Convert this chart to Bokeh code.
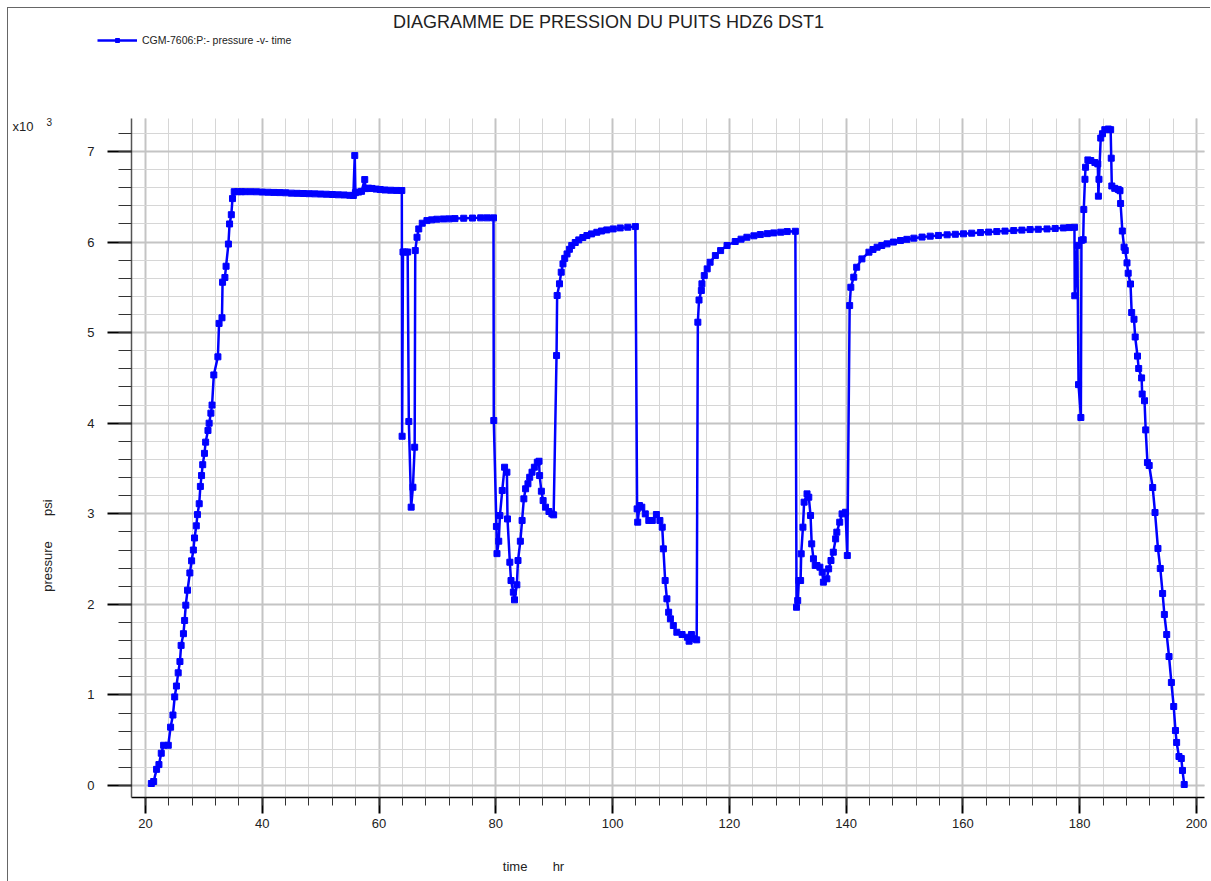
from bokeh.plotting import figure
from bokeh.models import (SingleIntervalTicker, Label, Legend, LegendItem, ColumnDataSource)
from bokeh.embed import file_html
from bokeh.resources import INLINE

# ---------------- data (time hr, pressure psi) ----------------
time_hr = [
    21.0, 21.4, 21.9, 22.3, 22.7, 23.1, 23.9, 24.3, 24.7, 25.0, 25.3, 25.6, 25.9, 26.1, 26.5, 26.7,
    26.9, 27.2, 27.6, 27.9, 28.2, 28.4, 28.7, 28.9, 29.2, 29.4, 29.6, 29.8, 30.1, 30.3, 30.7, 30.9,
    31.2, 31.4, 31.7, 32.4, 32.6, 33.1, 33.2, 33.6, 33.8, 34.2, 34.4, 34.7, 34.9, 35.2, 35.8, 36.4,
    37, 38, 39, 40, 41, 42, 43, 44, 45, 46, 47, 48, 49, 50, 51, 52, 53, 54, 55, 55.6,
    55.84, 55.95, 56.5, 57.0, 57.55, 57.7, 58.2, 58.8, 59.5, 60.2, 61, 62, 63, 63.9,
    63.95, 64.1, 64.5, 64.9, 65.1, 65.5, 65.8, 66.1, 66.2, 66.5, 66.8, 67.4, 68.2, 69.0, 69.9,
    71, 72, 73, 74.5, 76, 77.4, 78.5, 79.6,
    79.65, 80.1, 80.2, 80.5, 80.7, 81.1, 81.5, 81.9, 82.0, 82.4, 82.6, 83.0, 83.2, 83.6, 83.8,
    84.2, 84.5, 84.8, 85.1, 85.5, 85.8, 86.2, 86.6, 87.1, 87.4, 87.5, 87.8, 88.1, 88.5, 89.1,
    89.6, 89.9,
    90.4, 90.5, 90.9, 91.2, 91.5, 91.8, 92.2, 92.6, 93.0, 93.6, 94.2, 94.9, 95.6, 96.4, 97.3,
    98.1, 99.0, 100.1, 101.3, 102.6, 103.9,
    104.2, 104.3, 104.6, 105.0, 105.6, 106.2, 106.8, 107.5, 108.1, 108.5, 108.7, 109.0, 109.3,
    109.6, 109.9, 110.4, 111.0, 111.9, 112.8, 113.1, 113.5, 113.9, 114.4,
    114.6, 114.8, 115.2, 115.3, 115.7, 116.2, 116.7, 117.6, 118.5, 119.6, 121.0, 122.0, 123.0,
    124.2, 125.3, 126.5, 127.6, 128.8, 129.9, 131.3,
    131.5, 131.7, 131.9, 132.2, 132.3, 132.6, 132.8, 133.3, 133.6, 133.9, 134.1, 134.4, 134.7,
    135.0, 135.5, 135.9, 136.1, 136.7, 137.0, 137.4, 137.8, 138.2, 138.4, 138.9, 139.3, 139.9,
    140.2,
    140.6, 140.8, 141.3, 141.8, 142.7, 143.9, 144.6, 145.3, 146.1, 147.0, 148.1, 149.3, 150.4,
    151.6, 153.0, 154.4, 155.8, 157.3, 158.7, 160.1, 161.5, 163.0, 164.4, 165.8, 167.2, 168.7,
    170.1, 171.5, 172.9, 174.4, 175.8, 177.2, 178.2, 179.1,
    179.15, 179.6, 179.8, 180.2, 180.3, 180.6, 180.7, 180.9, 181.0, 181.4, 181.9, 182.6, 183.1,
    183.2, 183.3, 183.6, 183.9, 184.3, 184.9, 185.3, 185.4, 185.5, 186.0, 186.6, 186.9, 187.0,
    187.3, 187.6, 187.8, 188.1, 188.3, 188.7, 188.9, 189.3, 189.5, 189.9, 190.1, 190.6, 190.7,
    191.1, 191.3, 191.6, 191.9, 192.5, 192.9, 193.4, 193.8, 194.2, 194.5, 194.9, 195.3, 195.7,
    196.1, 196.4, 196.6, 197.0, 197.4, 197.6, 197.9,
]
pressure_psi = [
    22, 44, 178, 231, 356, 444, 444, 644, 778, 978, 1098, 1244, 1369, 1547, 1676, 1822,
    1991, 2156, 2347, 2480, 2600, 2733, 2867, 2991, 3111, 3302, 3422, 3542, 3667, 3791, 3920, 4000,
    4111, 4200, 4533, 4733, 5102, 5164, 5556, 5609, 5733, 5978, 6200, 6302, 6480, 6556, 6556, 6556,
    6556, 6556, 6555, 6552, 6550, 6548, 6546, 6544, 6540, 6538, 6536, 6534, 6532, 6530, 6528, 6525, 6522, 6520, 6516, 6514,
    6955, 6545, 6552, 6560, 6690, 6590, 6595, 6592, 6585, 6580, 6575, 6572, 6570, 6569,
    3856, 5890, 5890, 5890, 4019, 3073, 3293, 3735, 5906, 6053, 6145, 6208, 6237, 6245, 6252,
    6255, 6256, 6259, 6263, 6265, 6267, 6267, 6267,
    4030, 2860, 2560, 2697, 2980, 3257, 3514, 3459, 2943, 2465, 2263, 2134, 2050, 2216, 2484,
    2697, 2926, 3165, 3276, 3331, 3403, 3459, 3514, 3569, 3580, 3422, 3249, 3146, 3073, 3025,
    2999, 2988,
    4747, 5410, 5539, 5667, 5759, 5820, 5869, 5920, 5962, 5995, 6024, 6050, 6072, 6090, 6108,
    6122, 6134, 6145, 6156, 6164, 6171,
    3054, 2907, 3091, 3073, 2999, 2926, 2926, 2992, 2926, 2852, 2613, 2263, 2061,
    1913, 1840, 1766, 1692, 1667, 1637, 1593, 1667, 1620, 1608,
    5115, 5360, 5465, 5539, 5630, 5704, 5777, 5851, 5906, 5962, 6006, 6032, 6053,
    6069, 6083, 6093, 6101, 6109, 6116, 6119,
    1968, 2042, 2263, 2263, 2558, 2852, 3128, 3220, 3183, 2981, 2668, 2503, 2429,
    2429, 2410, 2355, 2245, 2282, 2392, 2484, 2576, 2723, 2797, 2907, 2999, 3017,
    2539,
    5299, 5501, 5612, 5722, 5814, 5888, 5918, 5943, 5962, 5980, 6000, 6017, 6030,
    6043, 6055, 6065, 6073, 6080, 6086, 6091, 6098, 6105, 6110, 6116, 6121, 6127,
    6132, 6138, 6141, 6145, 6150, 6156, 6160, 6163,
    5407, 5963, 4426, 4063, 6019, 6026, 6359, 6693, 6826, 6907, 6900, 6878, 6863,
    6507, 6693, 7148, 7196, 7241, 7248, 7241, 6926, 6619, 6593, 6581, 6567, 6426,
    6122, 5944, 5907, 5770, 5656, 5537, 5222, 5148, 4952, 4741, 4604, 4500, 4322,
    4248, 3926, 3566, 3533, 3290, 3014, 2617, 2396, 2120, 1888, 1667, 1424, 1137,
    872, 607, 475, 320, 298, 166, 11,
]

y_tick_values = [0, 1000, 2000, 3000, 4000, 5000, 6000, 7000]
y_tick_labels = ["0", "1", "2", "3", "4", "5", "6", "7"]

NB = "\u00a0"
title_text = "DIAGRAMME DE PRESSION DU PUITS HDZ6 DST1"
legend_text = "CGM-7606:P:- pressure -v- time"
x_label_text = "time" + NB * 7 + "hr"
y_label_text = "pressure" + NB * 7 + "psi"

FONT = "Liberation Sans"
BLUE = "#0000ff"
W, H = 1210, 881

# plot-area bounds in data units (axes drawn at these fixed locations)
X_MIN, X_MAX = 17.60, 201.37
Y_MIN, Y_MAX = -132.5, 7364

src = ColumnDataSource(data=dict(t=time_hr, p=pressure_psi))

p = figure(width=W, height=H, output_backend="svg", toolbar_location=None, title=None,
           x_range=(-4.833, 202.40), y_range=(-1060, 8667),
           min_border_left=0, min_border_right=0, min_border_top=0, min_border_bottom=0)
p.outline_line_color = None
p.background_fill_alpha = 0
p.border_fill_alpha = 0
p.styles = {
    "background": "linear-gradient(#666,#666) 7px 7px / 1px calc(100% - 7px) no-repeat, "
                  "linear-gradient(#666,#666) 7px 7px / calc(100% - 7px) 1px no-repeat, white"
}

# axes, fixed at the plot-area edges
p.xaxis.fixed_location = Y_MIN
p.yaxis.fixed_location = X_MIN
p.xaxis.bounds = (X_MIN, X_MAX)
p.yaxis.bounds = (Y_MIN, Y_MAX)
p.xaxis.ticker = SingleIntervalTicker(interval=20, num_minor_ticks=5)
p.yaxis.ticker = SingleIntervalTicker(interval=1000, num_minor_ticks=5)
p.yaxis.major_label_overrides = {v: l for v, l in zip(y_tick_values, y_tick_labels)}

for ax in (p.xaxis[0], p.yaxis[0]):
    ax.major_label_text_font = FONT
    ax.major_label_text_font_size = "13px"
    ax.major_label_text_color = "#222222"
    ax.major_tick_in = 0
    ax.minor_tick_in = 0
    ax.major_tick_line_color = "black"
    ax.minor_tick_line_color = "#333333"
    ax.major_tick_line_width = 2
    ax.minor_tick_line_width = 1

p.xaxis.axis_line_color = "black"
p.xaxis.axis_line_width = 1.5
p.xaxis.major_tick_out = 16
p.xaxis.minor_tick_out = 8
p.xaxis.major_label_standoff = 6

p.yaxis.axis_line_color = "#555555"
p.yaxis.axis_line_width = 1.5
p.yaxis.major_tick_out = 24
p.yaxis.minor_tick_out = 13
p.yaxis.major_label_standoff = 13

# grid, limited to the plot area
for g in (p.xgrid[0], p.ygrid[0]):
    g.grid_line_color = "#c4c4c4"
    g.grid_line_width = 2
    g.minor_grid_line_color = "#d6d6d6"
    g.minor_grid_line_width = 1
p.xgrid[0].bounds = (X_MIN, X_MAX)
p.ygrid[0].bounds = (Y_MIN, Y_MAX)
try:
    p.xgrid[0].cross_bounds = (Y_MIN, Y_MAX)
    p.ygrid[0].cross_bounds = (X_MIN, X_MAX)
except Exception:
    pass

# data
line_r = p.line("t", "p", source=src, line_color=BLUE, line_width=2.5)
pts_r = p.scatter("t", "p", source=src, marker="square", size=6, color=BLUE)

# legend at top-left (bottom-left corner given from canvas bottom-left)
legend = Legend(items=[LegendItem(label=legend_text, renderers=[line_r, pts_r])],
                location=(97, H - 46), glyph_width=40, glyph_height=10, label_height=10,
                label_text_font=FONT, label_text_font_size="10.5px", label_text_color="#222222",
                label_standoff=5, padding=0, margin=0, spacing=0,
                border_line_color=None, background_fill_alpha=0)
p.add_layout(legend, "center")


def add_label(text, px, py, size, align="left", angle=0):
    p.add_layout(Label(x=px, y=H - py, x_units="screen", y_units="screen", text=text,
                       text_font=FONT, text_font_size=size, text_align=align,
                       text_baseline="middle", angle=angle, text_color="#222222"))


add_label(title_text, 608, 21, "18px", align="center")
add_label(x_label_text, 533, 866, "13px", align="center")
add_label(y_label_text, 47, 545, "13px", align="center", angle=1.5708)
add_label("x10", 12, 126, "13px")
add_label("3", 46, 121, "10px")

open("out.html", "w").write(file_html(p, INLINE))
